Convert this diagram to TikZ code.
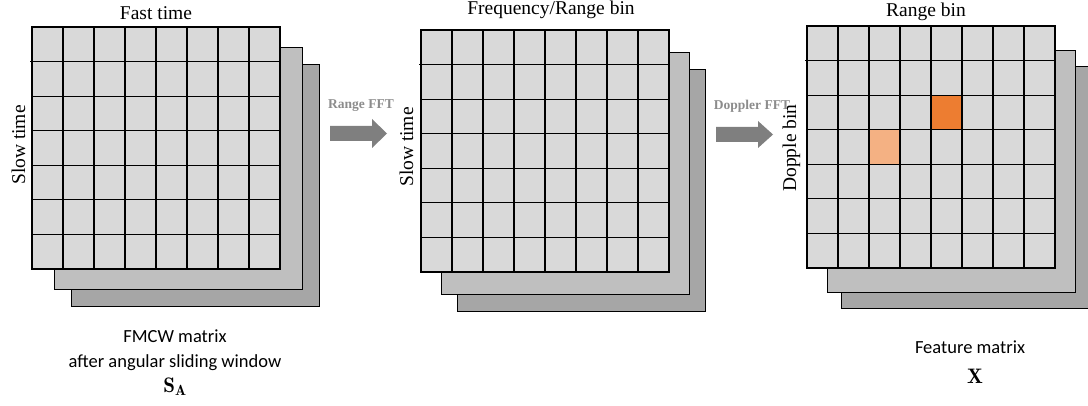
\documentclass[tikz,border=0pt]{standalone}
\usepackage{fontspec}
\newfontfamily\titlefont{Liberation Serif}
\newfontfamily\notefont{Carlito}
\definecolor{cellgray}{HTML}{D9D9D9}
\definecolor{layerone}{HTML}{BFBFBF}
\definecolor{layertwo}{HTML}{A6A6A6}
\definecolor{arrowgray}{HTML}{7F7F7F}
\definecolor{fftlabel}{HTML}{8C8C8C}
\definecolor{peak}{HTML}{ED7D31}
\definecolor{weakpeak}{HTML}{F4B183}

\tikzset{
  sheet/.style={draw=black, line width=1pt, inner sep=0pt, outer sep=0pt,
    minimum width=248pt, minimum height=242pt, anchor=north west},
  gridline/.style={draw=black, line width=1.1pt},
  axislabel/.style={font=\titlefont\fontsize{19.5}{20}\selectfont, inner sep=0pt, anchor=base},
  sidelabel/.style={axislabel, rotate=90},
  fftnote/.style={font=\titlefont\bfseries\fontsize{13.5}{14}\selectfont, text=fftlabel, inner sep=0pt, anchor=base},
  caption/.style={font=\notefont\fontsize{18.5}{19}\selectfont, inner sep=0pt, anchor=base},
  symbol/.style={font=\fontsize{21}{21}\selectfont, inner sep=0pt, anchor=base},
  blockarrow/.style={fill=arrowgray, draw=none},
  cellfill/.style={draw=none}
}

% three stacked sheets: front sheet #1 at (#2,#3), the other two offset by (#4,#5) and (#6,#7)
\newcommand{\matstack}[7]{%
  \node[sheet, fill=layertwo] (#1-back) at (#2+#6,#3+#7) {};
  \node[sheet, fill=layerone] (#1-mid) at (#2+#4,#3+#5) {};
  \node[sheet, fill=cellgray] (#1) at (#2,#3) {};
}
% 8 x 7 cell grid on the front sheet
\newcommand{\matgrid}[3]{%
  \foreach \c in {1,...,7} \draw[gridline] (#2+\c*31,#3) -- (#2+\c*31,#3+242);
  \foreach \r in {1,...,6} \draw[gridline] (#2,#3+\r*34.571) -- (#2+248,#3+\r*34.571);
  \draw[gridline] (#2-2,#3+34.571) -- (#2,#3+34.571);
  \draw[gridline] (#1.north west) rectangle (#1.south east);
}

\begin{document}
\begin{tikzpicture}[x=1pt, y=-1pt]
\useasboundingbox (0,0) rectangle (1088,406);

% --- FMCW matrix ---
\matstack{fmcw}{32}{27}{22}{21}{39}{38}
\matgrid{fmcw}{32}{27}
\node[axislabel] (fmcw-top) at (156,20) {Fast time};
\node[sidelabel] (fmcw-side) at (25,145) {Slow time};
\node[caption] (fmcw-cap1) at (175,343) {FMCW matrix};
\node[caption] (fmcw-cap2) at (175,367) {after angular sliding window};
\node[symbol] (fmcw-sym) at (175,392) {$\mathbf{S}_{\mathbf{A}}$};

% --- range FFT arrow ---
\fill[blockarrow] (330,126) -- (372,126) -- (372,119) -- (387,133.5) -- (372,148) -- (372,141) -- (330,141) -- cycle;
\node[fftnote] (range-fft) at (361,109) {Range FFT};

% --- frequency / range matrix ---
\matstack{freq}{421}{30}{20}{23}{36}{40}
\matgrid{freq}{421}{30}
\node[axislabel] (freq-top) at (551,15) {Frequency/Range bin};
\node[sidelabel] (freq-side) at (413,147) {Slow time};

% --- Doppler FFT arrow ---
\fill[blockarrow] (716,127) -- (758,127) -- (758,121) -- (773,134.5) -- (758,148) -- (758,142) -- (716,142) -- cycle;
\node[fftnote] (doppler-fft) at (752,110) {Doppler FFT};

% --- feature matrix ---
\matstack{feat}{807}{26}{20}{25}{34}{41}
\fill[peak, cellfill] (807+4*31,26+2*34.571) rectangle (807+5*31,26+3*34.571);
\fill[weakpeak, cellfill] (807+2*31,26+3*34.571) rectangle (807+3*31,26+4*34.571);
\matgrid{feat}{807}{26}
\node[axislabel] (feat-top) at (926,17) {Range bin};
\node[sidelabel] (feat-side) at (796,148) {Dopple bin};
\node[caption] (feat-cap) at (970,353) {Feature matrix};
\node[symbol] (feat-sym) at (975,384) {$\mathbf{X}$};
\end{tikzpicture}
\end{document}
